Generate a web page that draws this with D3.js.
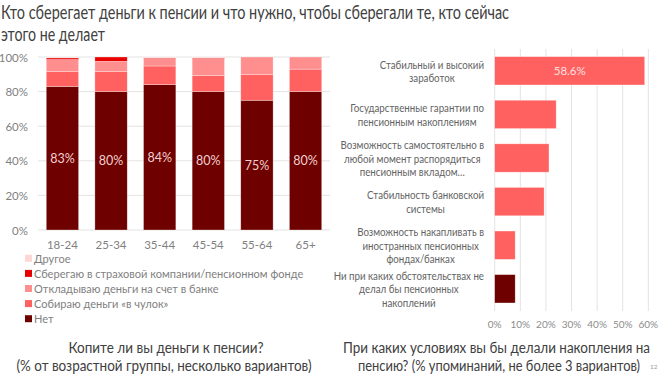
<!DOCTYPE html>
<html>
<head>
<meta charset="utf-8">
<script src="https://cdn.jsdelivr.net/npm/d3@7"></script>
<style>
  body { margin: 0; background: #fff; }
  svg { display: block; font-family: Lato, "Open Sans", sans-serif; }
</style>
</head>
<body>
<svg id="chart" width="662" height="374"></svg>
<script>
// left chart data (% of age group)
const ages = ['18-24', '25-34', '35-44', '45-54', '55-64', '65+'];
const seriesNames = ['Нет', 'Собираю деньги «в чулок»', 'Откладываю деньги на счет в банке',
  'Сберегаю в страховой компании/пенсионном фонде', 'Другое'];
const noSavings = [83, 80, 84, 80, 75, 80];
const stocking = [8.5, 11.5, 10.8, 9.2, 15, 13];
const bank = [7, 6, 4.2, 9.8, 10, 7];
const insurance = [1, 2.5, 0.5, 0.5, 0, 0];
const other = [0.5, 0, 0.5, 0.5, 0, 0];
const seriesColors = ['#6e0000', '#ff6060', '#ff8e8e', '#e80000', '#ffd6d6'];
const yTicks = [0, 20, 40, 60, 80, 100];

// right chart data (% of mentions)
const conditions = [
  ['Стабильный и высокий', 'заработок'],
  ['Государственные гарантии по', 'пенсионным накоплениям'],
  ['Возможность самостоятельно в', 'любой момент распорядиться', 'пенсионным вкладом…'],
  ['Стабильность банковской', 'системы'],
  ['Возможность накапливать в', 'иностранных пенсионных', 'фондах/банках'],
  ['Ни при каких обстоятельствах не', 'делал бы пенсионных', 'накоплений']
];
const mentions = [58.6, 24, 21.2, 19.3, 8, 8];
const xTicks = [0, 10, 20, 30, 40, 50, 60];

const svg = d3.select('#chart');
const grey = '#7f7f7f';
const dark = '#404040';

// Lato is wider than the original font, squeeze text horizontally
function condense(sel, k) {
  sel.each(function() {
    const w = this.getComputedTextLength();
    d3.select(this).attr('textLength', w * k).attr('lengthAdjust', 'spacingAndGlyphs');
  });
}

// title
const title = svg.append('g').attr('fill', dark).attr('font-size', 18.5);
title.append('text').attr('x', 1).attr('y', 19)
  .attr('textLength', 508).attr('lengthAdjust', 'spacingAndGlyphs')
  .text('Кто сберегает деньги к пенсии и что нужно, чтобы сберегали те, кто сейчас');
title.append('text').attr('x', 1).attr('y', 41)
  .attr('textLength', 104).attr('lengthAdjust', 'spacingAndGlyphs')
  .text('этого не делает');

// ---------- left: stacked columns ----------
const x = d3.scaleBand().domain(ages).range([38, 330]).paddingInner(0.335).paddingOuter(0.17);
const y = d3.scaleLinear().domain([0, 100]).range([230, 57]);

svg.append('g').selectAll('line').data(yTicks).enter().append('line')
  .attr('x1', 38).attr('x2', 330)
  .attr('y1', d => y(d)).attr('y2', d => y(d))
  .attr('stroke', '#e3e3e3').attr('stroke-width', 1);

svg.append('g').selectAll('text').data(yTicks).enter().append('text')
  .attr('x', 28).attr('y', d => y(d))
  .attr('text-anchor', 'end').attr('dominant-baseline', 'central')
  .attr('font-size', 11.5).attr('fill', grey)
  .text(d => d + '%');

const rows = ages.map((a, i) => ({
  age: a, s0: noSavings[i], s1: stocking[i], s2: bank[i], s3: insurance[i], s4: other[i]
}));
const stack = d3.stack().keys(['s0', 's1', 's2', 's3', 's4'])(rows);

svg.append('g').selectAll('g').data(stack).enter().append('g')
  .attr('fill', (d, i) => seriesColors[i])
  .selectAll('rect').data(d => d).enter().append('rect')
  .attr('x', d => x(d.data.age))
  .attr('width', x.bandwidth())
  .attr('y', d => y(d[1]))
  .attr('height', d => Math.max(0, y(d[0]) - y(d[1])))
  .attr('stroke', '#fff').attr('stroke-opacity', 0.5).attr('stroke-width', 0.6);

svg.append('g').selectAll('text').data(rows).enter().append('text')
  .attr('x', d => x(d.age) + x.bandwidth() / 2)
  .attr('y', d => y(d.s0 / 2))
  .attr('text-anchor', 'middle').attr('dominant-baseline', 'central')
  .attr('font-size', 12.5).attr('fill', '#f2d0d0')
  .text(d => Math.round(d.s0) + '%');

svg.append('g').selectAll('text').data(ages).enter().append('text')
  .attr('x', d => x(d) + x.bandwidth() / 2).attr('y', 244.5)
  .attr('text-anchor', 'middle').attr('dominant-baseline', 'central')
  .attr('font-size', 11.5).attr('fill', grey)
  .text(d => d);

// legend (reverse order, top = Другое)
const legend = svg.append('g').selectAll('g')
  .data(seriesNames.map((n, i) => ({ name: n, color: seriesColors[i] })).reverse())
  .enter().append('g')
  .attr('transform', (d, i) => `translate(25, ${258.3 + i * 15.1})`);
legend.append('rect').attr('x', 0).attr('y', -3.5).attr('width', 7).attr('height', 7)
  .attr('fill', d => d.color);
legend.append('text').attr('x', 9).attr('y', 0).attr('dominant-baseline', 'central')
  .attr('font-size', 12).attr('fill', grey)
  .text(d => d.name)
  .call(condense, 0.92);

const sub1 = svg.append('g').attr('fill', dark).attr('font-size', 15).attr('text-anchor', 'middle');
sub1.append('text').attr('x', 166).attr('y', 353).attr('textLength', 195)
  .attr('lengthAdjust', 'spacingAndGlyphs').text('Копите ли вы деньги к пенсии?');
sub1.append('text').attr('x', 164).attr('y', 371).attr('textLength', 295)
  .attr('lengthAdjust', 'spacingAndGlyphs').text('(% от возрастной группы, несколько вариантов)');

// ---------- right: horizontal bars ----------
const xr = d3.scaleLinear().domain([0, 60]).range([494.7, 648.3]);
const yr = d3.scaleBand().domain(d3.range(conditions.length)).range([49, 310.6]).paddingInner(0.35).paddingOuter(0.175);

svg.append('g').selectAll('line').data(xTicks).enter().append('line')
  .attr('x1', d => xr(d)).attr('x2', d => xr(d))
  .attr('y1', 49).attr('y2', 311)
  .attr('stroke', '#e3e3e3').attr('stroke-width', 1);

svg.append('g').selectAll('text').data(xTicks).enter().append('text')
  .attr('x', d => xr(d)).attr('y', 324)
  .attr('text-anchor', 'middle').attr('dominant-baseline', 'central')
  .attr('font-size', 10).attr('fill', '#8c8c8c')
  .text(d => d + '%');

svg.append('g').selectAll('rect').data(mentions).enter().append('rect')
  .attr('x', xr(0))
  .attr('y', (d, i) => yr(i))
  .attr('width', d => xr(d) - xr(0))
  .attr('height', yr.bandwidth())
  .attr('fill', (d, i) => i === conditions.length - 1 ? '#6e0000' : '#ff6060')
  .attr('stroke', '#fff').attr('stroke-opacity', 0.5).attr('stroke-width', 0.6);

svg.append('text')
  .attr('x', (xr(0) + xr(mentions[0])) / 2).attr('y', yr(0) + yr.bandwidth() / 2)
  .attr('text-anchor', 'middle').attr('dominant-baseline', 'central')
  .attr('font-size', 11.5).attr('fill', '#ffe0e0')
  .text(mentions[0] + '%');

// category labels: lines centred on each other, block right-aligned
const labelRight = 484;
const lineH = 13.4;
conditions.forEach((lines, i) => {
  const g = svg.append('g').attr('font-size', 10.8).attr('fill', '#636363');
  const cy = yr(i) + yr.bandwidth() / 2;
  const texts = lines.map((t, j) => g.append('text')
    .attr('y', cy + (j - (lines.length - 1) / 2) * lineH)
    .attr('dominant-baseline', 'central')
    .attr('text-anchor', 'middle')
    .text(t)
    .call(condense, 0.9));
  const maxW = d3.max(texts, t => +t.attr('textLength'));
  texts.forEach(t => t.attr('x', labelRight - maxW / 2));
});

const sub2 = svg.append('g').attr('fill', dark).attr('font-size', 15.5).attr('text-anchor', 'middle');
sub2.append('text').attr('x', 496.5).attr('y', 353).attr('textLength', 307)
  .attr('lengthAdjust', 'spacingAndGlyphs').text('При каких условиях вы бы делали накопления на');
sub2.append('text').attr('x', 499).attr('y', 371).attr('textLength', 282)
  .attr('lengthAdjust', 'spacingAndGlyphs').text('пенсию? (% упоминаний, не более 3 вариантов)');

svg.append('text').attr('x', 650).attr('y', 369)
  .attr('font-size', 6.5).attr('fill', '#999').text('12');
</script>
</body>
</html>
